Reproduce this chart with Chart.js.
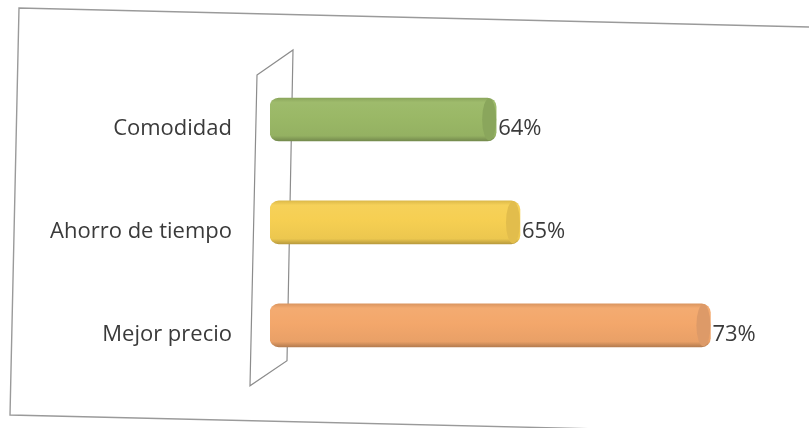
<!DOCTYPE html>
<html>
<head>
<meta charset="utf-8">
<script src="https://cdn.jsdelivr.net/npm/chart.js@4/dist/chart.umd.min.js"></script>
<style>
  html, body { margin: 0; padding: 0; background: #ffffff; }
  #wrap { width: 809px; height: 428px; }
</style>
</head>
<body>
<div id="wrap"><canvas id="c" width="809" height="428"></canvas></div>
<script>
// ---- data ----
const categories = ["Comodidad", "Ahorro de tiempo", "Mejor precio"];
const values = [0.64, 0.65, 0.73];
const valueLabels = ["64%", "65%", "73%"];
const axisMin = 0.545;
const axisMax = 0.75;
const barColors = ["#9ab866", "#f6cf52", "#f3a76b"];
const capColors = ["#8aa65c", "#e2bd4c", "#dd9a68"];

const FONT = "'Open Sans', 'Noto Sans', sans-serif";
const TEXT = "#3a3a3a";

function shade(hex, f) {
  const n = parseInt(hex.slice(1), 16);
  let r = (n >> 16) & 255, g = (n >> 8) & 255, b = n & 255;
  if (f < 0) { r = r * (1 + f); g = g * (1 + f); b = b * (1 + f); }
  else { r = r + (255 - r) * f; g = g + (255 - g) * f; b = b + (255 - b) * f; }
  return `rgb(${Math.round(r)},${Math.round(g)},${Math.round(b)})`;
}

const BAR_H = 43;

const framePlugin = {
  id: 'frame',
  beforeDraw(chart) {
    const ctx = chart.ctx;
    ctx.save();
    ctx.strokeStyle = '#9a9a9a';
    ctx.lineWidth = 1.4;
    ctx.beginPath();
    ctx.moveTo(812, 27);
    ctx.lineTo(19, 8);
    ctx.lineTo(10, 415);
    ctx.lineTo(812, 434);
    ctx.stroke();
    ctx.restore();
  },
  beforeDatasetsDraw(chart) {
    const ctx = chart.ctx;
    const a = chart.chartArea;
    ctx.save();
    ctx.strokeStyle = '#8c8c8c';
    ctx.lineWidth = 1.2;
    ctx.beginPath();
    ctx.moveTo(a.left - 13, a.top + 7);
    ctx.lineTo(a.left + 23, a.top - 18);
    ctx.lineTo(a.left + 17, a.bottom - 16);
    ctx.lineTo(a.left - 20, a.bottom + 9);
    ctx.closePath();
    ctx.stroke();
    ctx.restore();
  },
  afterDatasetsDraw(chart) {
    const ctx = chart.ctx;
    const meta = chart.getDatasetMeta(0);
    ctx.save();
    meta.data.forEach((el, i) => {
      const h = el.height;
      // right end cap of the cylinder
      ctx.beginPath();
      ctx.ellipse(el.x - 7, el.y, 7, h / 2 - 0.5, 0, 0, Math.PI * 2);
      ctx.fillStyle = capColors[i];
      ctx.fill();
      // value label
      ctx.fillStyle = TEXT;
      ctx.font = "22px " + FONT;
      ctx.textAlign = 'left';
      ctx.textBaseline = 'middle';
      ctx.fillText(valueLabels[i], el.x + 2, el.y + 9);
    });
    ctx.restore();
  }
};

new Chart(document.getElementById('c'), {
  type: 'bar',
  data: {
    labels: categories,
    datasets: [{
      data: values,
      base: axisMin,
      barThickness: BAR_H,
      borderRadius: { topLeft: 9, bottomLeft: 9, topRight: 9, bottomRight: 9 },
      borderSkipped: false,
      backgroundColor: (c) => {
        const chart = c.chart;
        const i = c.dataIndex;
        const base = barColors[i] || barColors[0];
        if (!chart.chartArea || !chart.scales.y || i === undefined) return base;
        const yc = chart.scales.y.getPixelForValue(i);
        const g = chart.ctx.createLinearGradient(0, yc - BAR_H / 2, 0, yc + BAR_H / 2);
        g.addColorStop(0, shade(base, -0.1));
        g.addColorStop(0.1, shade(base, 0.04));
        g.addColorStop(0.45, base);
        g.addColorStop(0.88, shade(base, -0.04));
        g.addColorStop(1, shade(base, -0.25));
        return g;
      }
    }]
  },
  options: {
    indexAxis: 'y',
    responsive: false,
    animation: false,
    layout: { padding: { left: 0, right: 51, top: 68, bottom: 50 } },
    plugins: { legend: { display: false }, tooltip: { enabled: false } },
    scales: {
      x: {
        display: false,
        min: axisMin,
        max: axisMax
      },
      y: {
        grid: { display: false, drawTicks: false },
        border: { display: false },
        afterFit(s) { s.width = 270; },
        ticks: {
          padding: 38,
          labelOffset: 9,
          color: TEXT,
          font: { family: FONT, size: 22 }
        }
      }
    }
  },
  plugins: [framePlugin]
});
</script>
</body>
</html>
